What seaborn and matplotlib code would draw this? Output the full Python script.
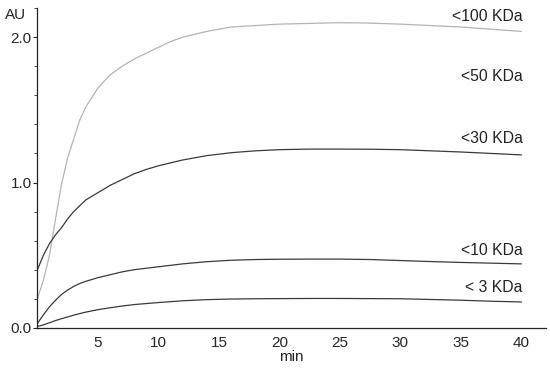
import matplotlib
matplotlib.use("Agg")
import matplotlib.pyplot as plt
import seaborn as sns
import pandas as pd
from matplotlib.ticker import MultipleLocator

# time points (min)
t = [0, 0.5, 1, 1.5, 2, 2.5, 3, 3.5, 4, 5, 6, 7, 8, 9, 10, 11, 12, 14, 16, 18, 20,
     22.5, 25, 27.5, 30, 32.5, 35, 37.5, 40]

# absorbance per fraction
au_100 = [0.20, 0.33, 0.50, 0.75, 0.99, 1.17, 1.30, 1.43, 1.52, 1.65, 1.74, 1.80, 1.85, 1.89, 1.93,
          1.97, 2.00, 2.04, 2.07, 2.08, 2.09, 2.095, 2.10, 2.097, 2.09, 2.08, 2.07, 2.055, 2.04]
au_30 = [0.40, 0.50, 0.58, 0.64, 0.69, 0.75, 0.80, 0.84, 0.88, 0.93, 0.98, 1.02, 1.06, 1.09, 1.115,
         1.135, 1.155, 1.185, 1.205, 1.218, 1.226, 1.23, 1.23, 1.229, 1.226, 1.218, 1.21, 1.20, 1.19]
au_10 = [0.03, 0.09, 0.145, 0.19, 0.23, 0.26, 0.285, 0.305, 0.32, 0.345, 0.365, 0.385, 0.40, 0.41, 0.42,
         0.43, 0.44, 0.455, 0.465, 0.47, 0.472, 0.473, 0.473, 0.47, 0.463, 0.456, 0.45, 0.445, 0.44]
au_3 = [0.01, 0.02, 0.035, 0.05, 0.063, 0.075, 0.087, 0.098, 0.108, 0.125, 0.138, 0.15, 0.16, 0.167, 0.174,
        0.18, 0.186, 0.194, 0.198, 0.2, 0.201, 0.202, 0.202, 0.201, 0.2, 0.195, 0.19, 0.183, 0.178]

labels = ["<100 KDa", "<50 KDa", "<30 KDa", "<10 KDa", "< 3 KDa"]
label_y = [2.14, 1.73, 1.30, 0.53, 0.275]

sns.set_style("ticks")
plt.rcParams['font.family'] = ['Liberation Sans', 'DejaVu Sans']

fig = plt.figure(figsize=(5.5, 3.7), dpi=100)
ax = fig.add_axes([0.068, 0.114, 0.924, 0.864])

df = pd.DataFrame({"t": t, "100": au_100, "30": au_30, "10": au_10, "3": au_3})
sns.lineplot(data=df, x="t", y="100", color="#b4b4b4", lw=0.9, ax=ax)
for col in ["30", "10", "3"]:
    sns.lineplot(data=df, x="t", y=col, color="#3a3a3a", lw=0.9, ax=ax)

for lab, yy in zip(labels, label_y):
    ax.text(40.1, yy, lab, ha="right", va="center", fontsize=11.3, color="#222222")

ax.set_xlim(0, 42)
ax.set_ylim(0, 2.2)
ax.set_xticks([5, 10, 15, 20, 25, 30, 35, 40])
ax.set_yticks([0, 1, 2])
ax.set_yticklabels(["0.0", "1.0", "2.0"])
ax.yaxis.set_minor_locator(MultipleLocator(0.2))
ax.tick_params(axis="x", length=0, labelsize=11, pad=6)
ax.tick_params(axis="y", which="major", length=3, labelsize=11, pad=1)
ax.tick_params(axis="y", which="minor", length=2)
ax.set_xlabel("min", fontsize=11, labelpad=0)
ax.set_ylabel("")
ax.text(-0.044, 1.0, "AU", transform=ax.transAxes, ha="center", va="top", fontsize=11)
sns.despine(ax=ax)
for s in ["left", "bottom"]:
    ax.spines[s].set_linewidth(0.9)
    ax.spines[s].set_color("#222222")

plt.savefig("out.png", dpi=100)
plt.close()
